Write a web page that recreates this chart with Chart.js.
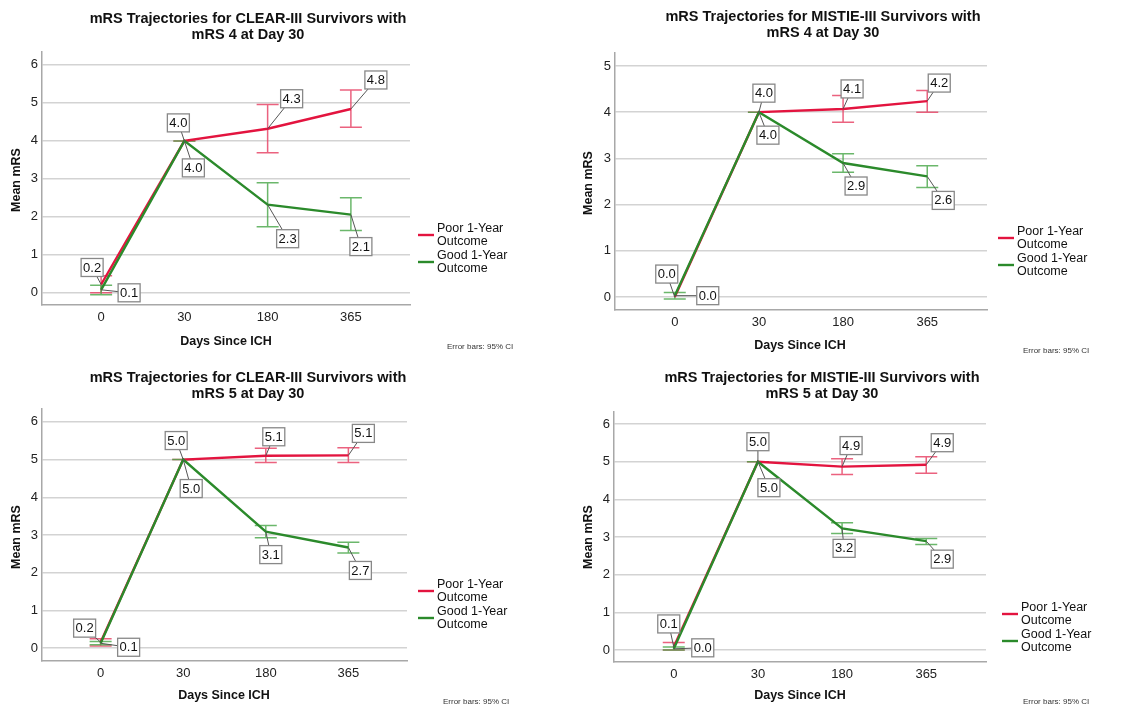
<!DOCTYPE html>
<html>
<head>
<meta charset="utf-8">
<script src="https://cdn.jsdelivr.net/npm/chart.js@4.4.1/dist/chart.umd.min.js"></script>
<style>
  body { margin: 0; background: #fff; }
  #wrap { position: relative; width: 1141px; height: 709px; }
  canvas { position: absolute; }
</style>
</head>
<body>
<div id="wrap"></div>
<script>
// tick labels on the x axis
const days = ["0", "30", "180", "365"];

// CLEAR-III, mRS 4 at day 30
const clear4Poor = [0.22, 4.0, 4.32, 4.84];
const clear4PoorCI = [[0.0, 0.45], [4, 4], [3.69, 4.96], [4.36, 5.34]];
const clear4Good = [0.08, 4.0, 2.32, 2.06];
const clear4GoodCI = [[-0.05, 0.2], [4, 4], [1.74, 2.9], [1.64, 2.5]];

// MISTIE-III, mRS 4 at day 30
const mistie4Poor = [0.0, 4.0, 4.07, 4.24];
const mistie4PoorCI = [null, [4, 4], [3.78, 4.36], [4.0, 4.47]];
const mistie4Good = [0.03, 4.0, 2.9, 2.61];
const mistie4GoodCI = [[-0.04, 0.1], [4, 4], [2.7, 3.1], [2.37, 2.84]];

// CLEAR-III, mRS 5 at day 30
const clear5Poor = [0.16, 5.0, 5.1, 5.11];
const clear5PoorCI = [[0.06, 0.25], [5, 5], [4.92, 5.3], [4.92, 5.31]];
const clear5Good = [0.13, 5.0, 3.09, 2.67];
const clear5GoodCI = [[0.09, 0.18], [5, 5], [2.93, 3.25], [2.52, 2.81]];

// MISTIE-III, mRS 5 at day 30
const mistie5Poor = [0.08, 5.0, 4.87, 4.92];
const mistie5PoorCI = [[0.0, 0.2], [5, 5], [4.66, 5.08], [4.69, 5.13]];
const mistie5Good = [0.03, 5.0, 3.23, 2.89];
const mistie5GoodCI = [[0.0, 0.08], [5, 5], [3.09, 3.38], [2.8, 2.96]];

const RED = "#e3143f";
const RED_BAR = "rgba(232, 70, 105, 0.85)";
const GREEN = "#2b8a2b";
const GREEN_BAR = "rgba(70, 165, 70, 0.8)";
const GRID = "#d3d3d3";
const AXIS = "#a8a8a8";
const FONT = '"Liberation Sans", Arial, sans-serif';

Chart.defaults.font.family = FONT;
Chart.defaults.color = "#222";

// layout of each panel (px inside its own canvas)
const panels = [
  {
    title: ["mRS Trajectories for CLEAR-III Survivors with", "mRS 4 at Day 30"],
    ox: 0, oy: 0, w: 570, h: 360,
    area: { l: 42, r: 410, t: 52, b: 305 },
    yMin: -0.32, yMax: 6.34,
    poor: clear4Poor, poorCI: clear4PoorCI, good: clear4Good, goodCI: clear4GoodCI,
    poorOff: [[-9, -17], [-6, -18], [24, -30], [25, -29]],
    goodOff: [[28, 3], [9, 27], [20, 34], [10, 32]],
    titleX: 248, titleY: 19,
    yTitle: [17, 180], xTitle: [226, 342],
    legend: { x: 418, y: 229 }, note: [447, 347],
  },
  {
    title: ["mRS Trajectories for MISTIE-III Survivors with", "mRS 4 at Day 30"],
    ox: 570, oy: 0, w: 571, h: 360,
    area: { l: 45, r: 417, t: 53, b: 310 },
    yMin: -0.28, yMax: 5.28,
    poor: mistie4Poor, poorCI: mistie4PoorCI, good: mistie4Good, goodCI: mistie4GoodCI,
    poorOff: [[-8, -23], [5, -19], [9, -20], [12, -18]],
    goodOff: [[33, 0], [9, 23], [13, 23], [16, 24]],
    titleX: 253, titleY: 17,
    yTitle: [19, 183], xTitle: [230, 346],
    legend: { x: 428, y: 232 }, note: [453, 351],
  },
  {
    title: ["mRS Trajectories for CLEAR-III Survivors with", "mRS 5 at Day 30"],
    ox: 0, oy: 360, w: 570, h: 349,
    area: { l: 42, r: 407, t: 49, b: 301 },
    yMin: -0.34, yMax: 6.34,
    poor: clear5Poor, poorCI: clear5PoorCI, good: clear5Good, goodCI: clear5GoodCI,
    poorOff: [[-16, -14], [-7, -19], [8, -19], [15, -22]],
    goodOff: [[28, 4], [8, 29], [5, 23], [12, 23]],
    titleX: 248, titleY: 18,
    yTitle: [17, 177], xTitle: [224, 336],
    legend: { x: 418, y: 225 }, note: [443, 342],
  },
  {
    title: ["mRS Trajectories for MISTIE-III Survivors with", "mRS 5 at Day 30"],
    ox: 570, oy: 360, w: 571, h: 349,
    area: { l: 44, r: 416, t: 52, b: 302 },
    yMin: -0.32, yMax: 6.32,
    poor: mistie5Poor, poorCI: mistie5PoorCI, good: mistie5Good, goodCI: mistie5GoodCI,
    poorOff: [[-5, -23], [0, -20], [9, -21], [16, -22]],
    goodOff: [[29, -1], [11, 26], [2, 20], [16, 18]],
    titleX: 252, titleY: 18,
    yTitle: [19, 177], xTitle: [230, 336],
    legend: { x: 432, y: 248 }, note: [453, 342],
  },
];

function drawBars(ctx, xs, ys, ci, color) {
  ctx.save();
  ctx.strokeStyle = color;
  ctx.lineWidth = 1.5;
  ci.forEach((c, i) => {
    if (!c) return;
    const px = xs.getPixelForValue(i);
    const y1 = ys.getPixelForValue(c[0]);
    const y2 = ys.getPixelForValue(c[1]);
    ctx.beginPath();
    ctx.moveTo(px, y1);
    ctx.lineTo(px, y2);
    ctx.moveTo(px - 11, y1);
    ctx.lineTo(px + 11, y1);
    ctx.moveTo(px - 11, y2);
    ctx.lineTo(px + 11, y2);
    ctx.stroke();
  });
  ctx.restore();
}

function drawLabels(ctx, xs, ys, vals, offs) {
  ctx.save();
  vals.forEach((v, i) => {
    const px = xs.getPixelForValue(i);
    const py = ys.getPixelForValue(v);
    const bx = px + offs[i][0];
    const by = py + offs[i][1];
    ctx.strokeStyle = "#555";
    ctx.lineWidth = 1;
    ctx.beginPath();
    ctx.moveTo(px, py);
    ctx.lineTo(bx, by);
    ctx.stroke();
    ctx.fillStyle = "#fff";
    ctx.fillRect(bx - 11, by - 9, 22, 18);
    ctx.strokeStyle = "#888";
    ctx.lineWidth = 1.3;
    ctx.strokeRect(bx - 11, by - 9, 22, 18);
    ctx.fillStyle = "#111";
    ctx.font = "13px " + FONT;
    ctx.textAlign = "center";
    ctx.textBaseline = "middle";
    ctx.fillText(v.toFixed(1), bx, by + 0.5);
  });
  ctx.restore();
}

function makeOverlay(p) {
  return {
    id: "overlay",
    beforeDatasetsDraw(chart) {
      const { ctx, scales } = chart;
      drawBars(ctx, scales.x, scales.y, p.poorCI, RED_BAR);
      drawBars(ctx, scales.x, scales.y, p.goodCI, GREEN_BAR);
    },
    afterDatasetsDraw(chart) {
      const { ctx, scales } = chart;
      drawLabels(ctx, scales.x, scales.y, p.poor, p.poorOff);
      drawLabels(ctx, scales.x, scales.y, p.good, p.goodOff);
    },
    afterDraw(chart) {
      const ctx = chart.ctx;
      ctx.save();
      ctx.fillStyle = "#111";
      ctx.textAlign = "center";
      ctx.textBaseline = "middle";

      ctx.font = "bold 14.5px " + FONT;
      p.title.forEach((t, k) => ctx.fillText(t, p.titleX, p.titleY + k * 15.5));

      ctx.font = "bold 12.5px " + FONT;
      ctx.fillText("Days Since ICH", p.xTitle[0], p.xTitle[1]);
      ctx.save();
      ctx.translate(p.yTitle[0], p.yTitle[1]);
      ctx.rotate(-Math.PI / 2);
      ctx.fillText("Mean mRS", 0, 0);
      ctx.restore();

      // legend
      const lg = p.legend;
      const items = [
        ["Poor 1-Year", "Outcome", RED],
        ["Good 1-Year", "Outcome", GREEN],
      ];
      ctx.textAlign = "left";
      ctx.font = "12.5px " + FONT;
      items.forEach((it, k) => {
        const y0 = lg.y + k * 27;
        ctx.strokeStyle = it[2];
        ctx.lineWidth = 2.4;
        ctx.beginPath();
        ctx.moveTo(lg.x, y0 + 6);
        ctx.lineTo(lg.x + 16, y0 + 6);
        ctx.stroke();
        ctx.fillStyle = "#111";
        ctx.fillText(it[0], lg.x + 19, y0);
        ctx.fillText(it[1], lg.x + 19, y0 + 12.5);
      });

      ctx.font = "8px " + FONT;
      ctx.fillStyle = "#333";
      ctx.fillText("Error bars: 95% CI", p.note[0], p.note[1]);
      ctx.restore();
    },
  };
}

const wrap = document.getElementById("wrap");

panels.forEach((p) => {
  const canvas = document.createElement("canvas");
  canvas.width = p.w;
  canvas.height = p.h;
  canvas.style.left = p.ox + "px";
  canvas.style.top = p.oy + "px";
  wrap.appendChild(canvas);

  const a = p.area;
  new Chart(canvas, {
    type: "line",
    data: {
      datasets: [
        {
          label: "Good 1-Year Outcome",
          data: p.good.map((v, i) => ({ x: i, y: v })),
          borderColor: GREEN,
          borderWidth: 2.4,
          pointRadius: 0,
          tension: 0,
          order: 0,
        },
        {
          label: "Poor 1-Year Outcome",
          data: p.poor.map((v, i) => ({ x: i, y: v })),
          borderColor: RED,
          borderWidth: 2.4,
          pointRadius: 0,
          tension: 0,
          order: 1,
        },
      ],
    },
    options: {
      responsive: false,
      animation: false,
      devicePixelRatio: 1,
      events: [],
      layout: {
        padding: { left: a.l - 30, right: p.w - a.r, top: a.t, bottom: p.h - a.b - 25 },
      },
      plugins: {
        legend: { display: false },
        title: { display: false },
        tooltip: { enabled: false },
      },
      scales: {
        x: {
          type: "linear",
          min: -0.71,
          max: 3.71,
          afterFit: (s) => { s.height = 25; },
          grid: { display: false, drawTicks: false },
          border: { color: AXIS, width: 1.5 },
          ticks: {
            stepSize: 1,
            includeBounds: false,
            padding: 5,
            color: "#222",
            font: { size: 13 },
            callback: (v) => days[v] ?? "",
          },
        },
        y: {
          min: p.yMin,
          max: p.yMax,
          afterFit: (s) => { s.width = 30; },
          grid: { color: GRID, lineWidth: 1.5, drawTicks: false },
          border: { color: AXIS, width: 1.5 },
          ticks: {
            stepSize: 1,
            includeBounds: false,
            padding: 4,
            color: "#222",
            font: { size: 13 },
          },
        },
      },
    },
    plugins: [makeOverlay(p)],
  });
});
</script>
</body>
</html>
